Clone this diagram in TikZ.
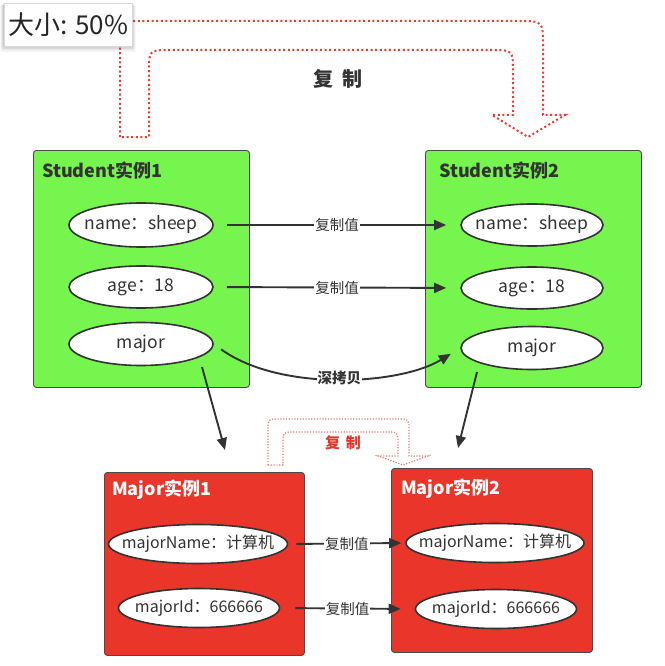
\documentclass[tikz,border=0pt]{standalone}
\usepackage{fontspec}
\setmainfont{Noto Sans CJK SC}
\usetikzlibrary{arrows.meta,shapes.geometric}
\definecolor{boxgreen}{HTML}{76F54F}
\definecolor{boxred}{HTML}{E9352A}
\definecolor{ink}{HTML}{333333}
\definecolor{frame}{HTML}{4A4A4A}
\definecolor{dotred}{HTML}{EE3B30}
\definecolor{dotpink}{HTML}{EF7A74}
\begin{document}
\begin{tikzpicture}[x=1pt,y=-1pt,
  greenbox/.style={draw=frame, line width=0.9pt, fill=boxgreen, rounded corners=3pt, inner sep=0pt, anchor=north west},
  redbox/.style={draw=frame, line width=0.9pt, fill=boxred, rounded corners=3pt, inner sep=0pt, anchor=north west},
  gtitle/.style={anchor=west, inner sep=0pt, text=ink, font=\fontsize{18}{20}\selectfont\bfseries},
  rtitle/.style={anchor=west, inner sep=0pt, text=white, font=\fontsize{18}{20}\selectfont\bfseries},
  field/.style={ellipse, draw=ink, line width=1.6pt, fill=white, inner xsep=-40pt, inner ysep=-8pt, text=ink, font=\fontsize{17.5}{20}\selectfont},
  mfield/.style={field, font=\fontsize{16}{18}\selectfont},
  arr/.style={draw=ink, line width=1.9pt, -{Triangle[length=12pt,width=10pt]}},
  lbl/.style={fill=white, inner sep=1pt, text=ink, font=\fontsize{14.5}{16}\selectfont},
  bigdots/.style={draw=dotred, line width=2pt, dash pattern=on 2pt off 2.6pt},
  smalldots/.style={draw=dotpink, line width=1.2pt, dash pattern=on 1.2pt off 1.6pt}
]
\useasboundingbox (0,0) rectangle (664,666);
\fill[white] (0,0) rectangle (664,666);

% big dotted copy arrow
\draw[bigdots] (120,137) -- (120,46) .. controls (120,21) .. (145,21) -- (518,21)
  .. controls (543,21) .. (543,46) -- (543,115) -- (565,115) -- (528,137) -- (492,115)
  -- (513,115) -- (513,72) .. controls (513,50) .. (491,50) -- (171,50)
  .. controls (149,50) .. (149,72) -- (149,137) -- cycle;
\node[text=ink, font=\fontsize{20}{22}\selectfont\bfseries] (copytop) at (338,79) {复\hspace{0.45em}制};

% zoom label with shadow
\foreach \s/\o in {6/0.04,4.5/0.05,3/0.06,1.5/0.07}{
  \fill[black, opacity=\o, rounded corners=2pt] (4-\s*0.6,3+\s*0.3) rectangle (132+\s*0.6,46+\s);
}
\node[draw=black!15, fill=white, line width=0.6pt, anchor=north west, minimum width=128pt, minimum height=43pt, inner sep=0pt] (zoombox) at (4,3) {};
\node[anchor=west, inner sep=0pt, text=black!85, font=\fontsize{26}{28}\selectfont] (zoomtxt) at (8,25) {大小: 50\%};

% student boxes
\node[greenbox, minimum width=216pt, minimum height=237pt] (sb1) at (33,150) {};
\node[greenbox, minimum width=216pt, minimum height=237pt] (sb2) at (425,150) {};
\node[gtitle] (st1) at (42,171) {Student实例1};
\node[gtitle] (st2) at (439,171) {Student实例2};

\node[field, minimum width=144pt, minimum height=44pt] (n1) at (141,225) {name：sheep};
\node[field, minimum width=144pt, minimum height=42pt] (a1) at (141,287) {age：18};
\node[field, minimum width=144pt, minimum height=43pt] (m1) at (141,344) {major};
\node[field, minimum width=142pt, minimum height=42pt] (n2) at (532,225) {name：sheep};
\node[field, minimum width=142pt, minimum height=42pt] (a2) at (532,288) {age：18};
\node[field, minimum width=142pt, minimum height=43pt] (m2) at (532,348) {major};

% major boxes
\node[redbox, minimum width=200pt, minimum height=183pt] (mb1) at (104,472) {};
\node[redbox, minimum width=201pt, minimum height=184pt] (mb2) at (391,468) {};
\node[rtitle] (mt1) at (112,490) {Major实例1};
\node[rtitle] (mt2) at (401,489) {Major实例2};

\node[mfield, minimum width=179pt, minimum height=39pt] (mn1) at (198,544) {majorName：计算机};
\node[mfield, minimum width=161pt, minimum height=39pt] (mi1) at (199,608) {majorId：666666};
\node[mfield, minimum width=178pt, minimum height=39pt] (mn2) at (495,543) {majorName：计算机};
\node[mfield, minimum width=161pt, minimum height=39pt] (mi2) at (496,609) {majorId：666666};

% value copy arrows
\draw[arr, shorten <=13pt, shorten >=14pt] (n1.east) -- node[lbl] {复制值} (n2.west);
\draw[arr, shorten <=13pt, shorten >=14pt] (a1.east) -- node[lbl] {复制值} (a2.west);
\draw[arr, shorten <=9pt, shorten >=11pt] (m1.east) .. controls (280,392) and (400,385) .. node[lbl, font=\fontsize{14.5}{16}\selectfont\bfseries, pos=0.5] {深拷贝} (m2.west);
\draw[arr, shorten <=8pt, shorten >=4pt] (mn1.east) -- node[lbl] {复制值} (mn2.west);
\draw[arr, shorten <=15pt, shorten >=14pt] (mi1.east) -- node[lbl] {复制值} (mi2.west);

% reference arrows
\coordinate (d1s) at (202,367);
\coordinate (d1e) at (225,450);
\coordinate (d2s) at (477,372);
\coordinate (d2e) at (458,448);
\draw[arr] (d1s) -- (d1e);
\draw[arr] (d2s) -- (d2e);

% small dotted copy arrow
\draw[smalldots] (268,465) -- (268,430) .. controls (268,419) .. (279,419) -- (398,419)
  .. controls (409,419) .. (409,430) -- (409,456) -- (428,456) -- (403,465) -- (378,456)
  -- (398,456) -- (398,443) .. controls (398,432) .. (387,432) -- (294,432)
  .. controls (283,432) .. (283,443) -- (283,465) -- cycle;
\node[text=boxred, font=\fontsize{15}{17}\selectfont\bfseries] (copysmall) at (343,443) {复\hspace{0.4em}制};
\end{tikzpicture}
\end{document}
